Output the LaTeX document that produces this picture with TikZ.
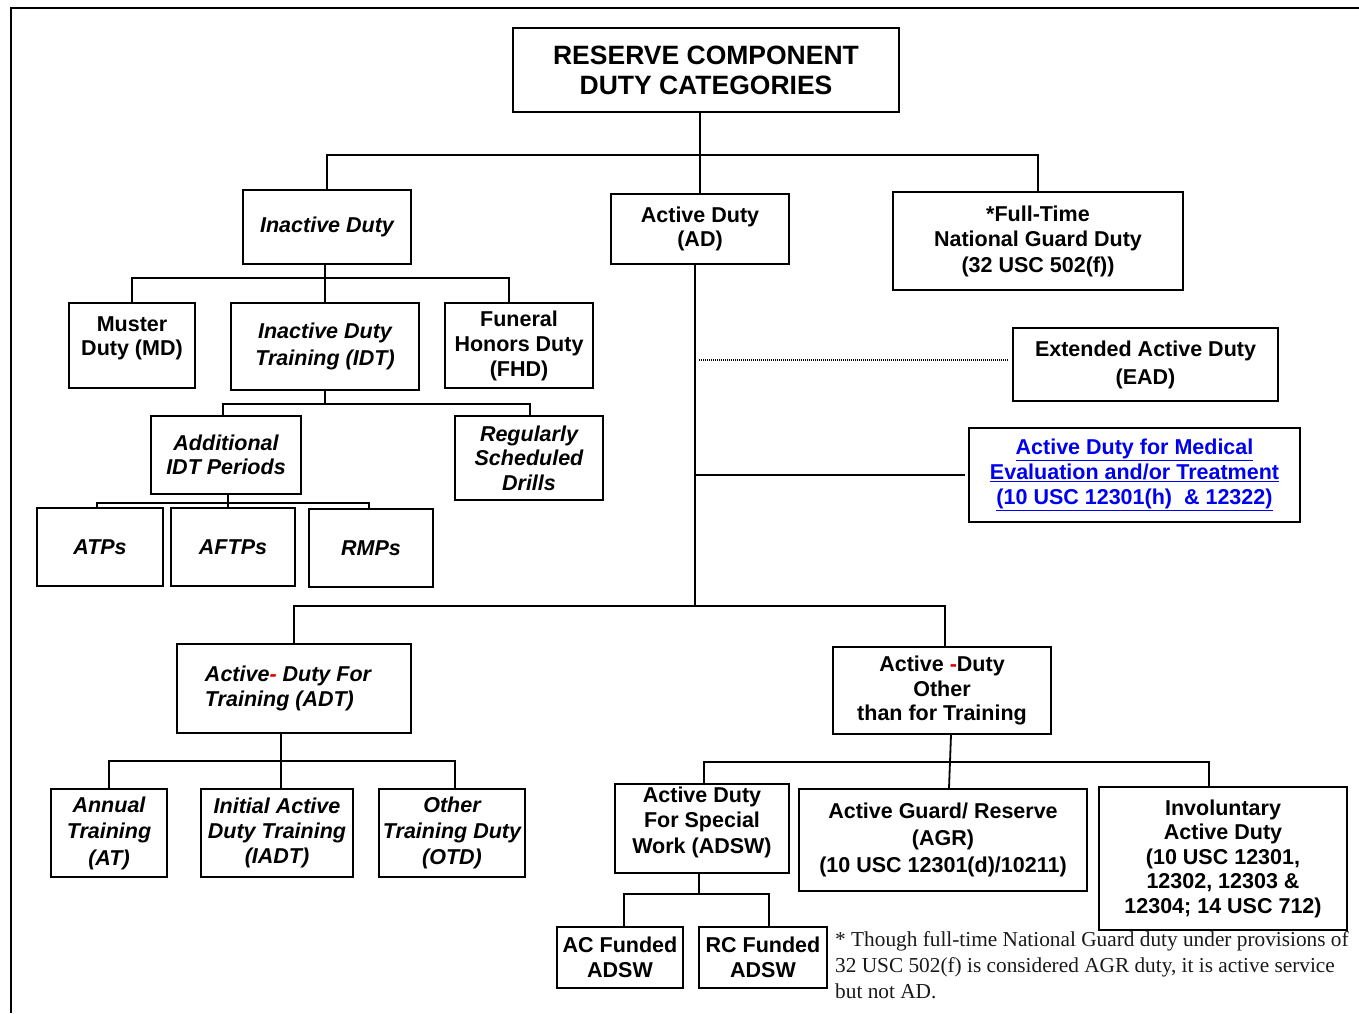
\documentclass[tikz,border=0pt]{standalone}
\usepackage{fontspec}
\setmainfont{Liberation Sans}
\newfontfamily\footfont{Liberation Serif}
\definecolor{linkblue}{RGB}{0,0,240}
\definecolor{hyphred}{RGB}{220,0,0}
\begin{document}
\begin{tikzpicture}[x=1pt,y=-1pt,
  box/.style={draw, line width=1.8pt, inner sep=0pt, align=center,
    font=\bfseries\fontsize{21.5}{24.5}\selectfont},
  ibox/.style={box, font=\bfseries\itshape\fontsize{21.5}{24.5}\selectfont},
  sz/.style 2 args={minimum width=#1pt, minimum height=#2pt},
  conn/.style={line width=1.8pt},
  dots/.style={line width=1.3pt, dash pattern=on 1pt off 1pt}]
\useasboundingbox (0,0) rectangle (1359,1013);
% frame
\draw[line width=2pt] (11,1013) -- (11,8) -- (1359,8);

% nodes
\node[box, sz={386}{84}, font=\bfseries\fontsize{26.5}{30}\selectfont] (title) at (706,70) {RESERVE COMPONENT\\DUTY CATEGORIES};
\node[ibox, sz={168}{74}] (id) at (327,227) {Inactive Duty};
\node[box, sz={178}{70}] (ad) at (700,229) {Active Duty\\(AD)};
\node[box, sz={290}{98}, font=\bfseries\fontsize{21.5}{25.5}\selectfont] (ftng) at (1038,241) {*Full-Time\\National Guard Duty\\(32 USC 502(f))};
\node[box, sz={265}{73}, font=\bfseries\fontsize{21.5}{28}\selectfont] (ead) at (1145.5,364.5) {Extended Active Duty\\(EAD)};
\node[box, sz={331}{94}, text=linkblue, font=\bfseries\fontsize{21.5}{25}\selectfont] (med) at (1134.5,475) {\underline{Active Duty for Medical}\\\underline{Evaluation and/or Treatment}\\\underline{(10 USC 12301(h)\ \ \& 12322)}};

\node[box, sz={126}{85}] (md) at (132,345.5) {Muster\\Duty (MD)\\[-6pt]\mbox{}};
\node[ibox, sz={188}{87}, font=\bfseries\itshape\fontsize{21.5}{27}\selectfont] (idt) at (325,346.5) {Inactive Duty\\Training (IDT)};
\node[box, sz={148}{85}, font=\bfseries\fontsize{21.5}{25}\selectfont] (fhd) at (519,345.5) {Funeral\\Honors Duty\\(FHD)};
\node[ibox, sz={150}{78}] (add) at (226,455) {Additional\\IDT Periods};
\node[ibox, sz={148}{84}] (rsd) at (529,458) {Regularly\\Scheduled\\Drills};
\node[ibox, sz={126}{78}] (atp) at (100,547) {ATPs};
\node[ibox, sz={124}{78}] (aftp) at (233,547) {AFTPs};
\node[ibox, sz={124}{78}] (rmp) at (371,548) {RMPs};

\node[ibox, sz={234}{89}, align=left] (adt) at (294,688.5) {Active\textcolor{hyphred}{-} Duty For\hspace*{12pt}\\Training (ADT)};
\node[box, sz={218}{87}] (aot) at (942,690.5) {Active \textcolor{hyphred}{-}Duty\\Other\\than for Training};
\node[ibox, sz={116}{88}, font=\bfseries\itshape\fontsize{21.5}{26.5}\selectfont] (at) at (109,833) {Annual\\Training\\(AT)};
\node[ibox, sz={152}{88}, font=\bfseries\itshape\fontsize{21.5}{25}\selectfont] (iadt) at (277,833) {Initial Active\\Duty Training\\(IADT)};
\node[ibox, sz={146}{88}, font=\bfseries\itshape\fontsize{21.5}{26}\selectfont] (otd) at (452,833) {Other\\Training Duty\\(OTD)};
\node[box, sz={174}{89}, font=\bfseries\fontsize{21.5}{25.5}\selectfont] (adsw) at (702,828.5) {Active Duty\\For Special\\Work (ADSW)\\[-8pt]\mbox{}};
\node[box, sz={288}{102}, font=\bfseries\fontsize{21.5}{27}\selectfont] (agr) at (943,840) {Active Guard/ Reserve\\(AGR)\\(10 USC 12301(d)/10211)};
\node[box, sz={248}{143}] (inv) at (1223,858.5) {Involuntary\\Active Duty\\(10 USC 12301,\\12302, 12303 \&\\12304; 14 USC 712)};
\node[box, sz={126}{61}] (ac) at (620,957.5) {AC Funded\\ADSW};
\node[box, sz={128}{61}] (rc) at (763,957.5) {RC Funded\\ADSW};

\node[anchor=north west, inner sep=0pt, align=left, text=black!90,
  font=\footfont\fontsize{21.3}{26}\selectfont] (fn) at (835,931)
  {* Though full-time National Guard duty under provisions of\\32 USC 502(f) is considered AGR duty, it is active service\\but not AD.};

% connectors: top level
\coordinate (b0) at (0,155);
\draw[conn] (title.south -| ad.north) -- (ad.north);
\draw[conn] (id.north) -- (id.north |- b0) -- (ftng.north |- b0) -- (ftng.north);

% active duty trunk
\coordinate (t1) at ([xshift=-5pt]ad.south);
\coordinate (b1) at (0,606);
\draw[conn] (t1) -- (t1 |- b1);
\draw[conn] (adt.north) -- (adt.north |- b1) -- ([xshift=3pt]aot.north |- b1) -- ([xshift=3pt]aot.north);
\draw[dots] ([yshift=4.5pt,xshift=4pt]ead.west -| t1) -- ([yshift=4.5pt,xshift=-5pt]ead.west);
\draw[conn] (med.west -| t1) -- ([xshift=-3pt]med.west);

% inactive duty subtree
\coordinate (b2) at (0,278);
\draw[conn] (id.south -| idt.north) -- (idt.north);
\draw[conn] (md.north) -- (md.north |- b2) -- ([xshift=-10pt]fhd.north |- b2) -- ([xshift=-10pt]fhd.north);

\coordinate (b3) at (0,404);
\draw[conn] (idt.south) -- (idt.south |- b3);
\draw[conn] ([xshift=-3pt]add.north) -- ([xshift=-3pt]add.north |- b3) -- ([xshift=1pt]rsd.north |- b3) -- ([xshift=1pt]rsd.north);

\coordinate (b4) at (0,503);
\draw[conn] ([xshift=2pt]add.south) -- ([xshift=2pt]add.south |- aftp.north);
\draw[conn] ([xshift=-3pt]atp.north) -- ([xshift=-3pt]atp.north |- b4) -- ([xshift=-2pt]rmp.north |- b4) -- ([xshift=-2pt]rmp.north);

% ADT subtree
\coordinate (b5) at (0,761);
\draw[conn] ([xshift=-13pt]adt.south) -- ([xshift=-13pt]adt.south |- iadt.north);
\draw[conn] (at.north) -- (at.north |- b5) -- ([xshift=3pt]otd.north |- b5) -- ([xshift=3pt]otd.north);

% AOT subtree
\coordinate (b6) at (0,762);
\draw[conn] ([xshift=9pt]aot.south) -- ([xshift=6pt]agr.north);
\draw[conn] ([xshift=2pt]adsw.north) -- ([xshift=2pt]adsw.north |- b6) -- ([xshift=-14pt]inv.north |- b6) -- ([xshift=-14pt]inv.north);

% ADSW subtree
\coordinate (b7) at (0,894);
\draw[conn] ([xshift=-3pt]adsw.south) -- ([xshift=-3pt]adsw.south |- b7);
\draw[conn] ([xshift=4pt]ac.north) -- ([xshift=4pt]ac.north |- b7) -- ([xshift=6pt]rc.north |- b7) -- ([xshift=6pt]rc.north);
\end{tikzpicture}
\end{document}
